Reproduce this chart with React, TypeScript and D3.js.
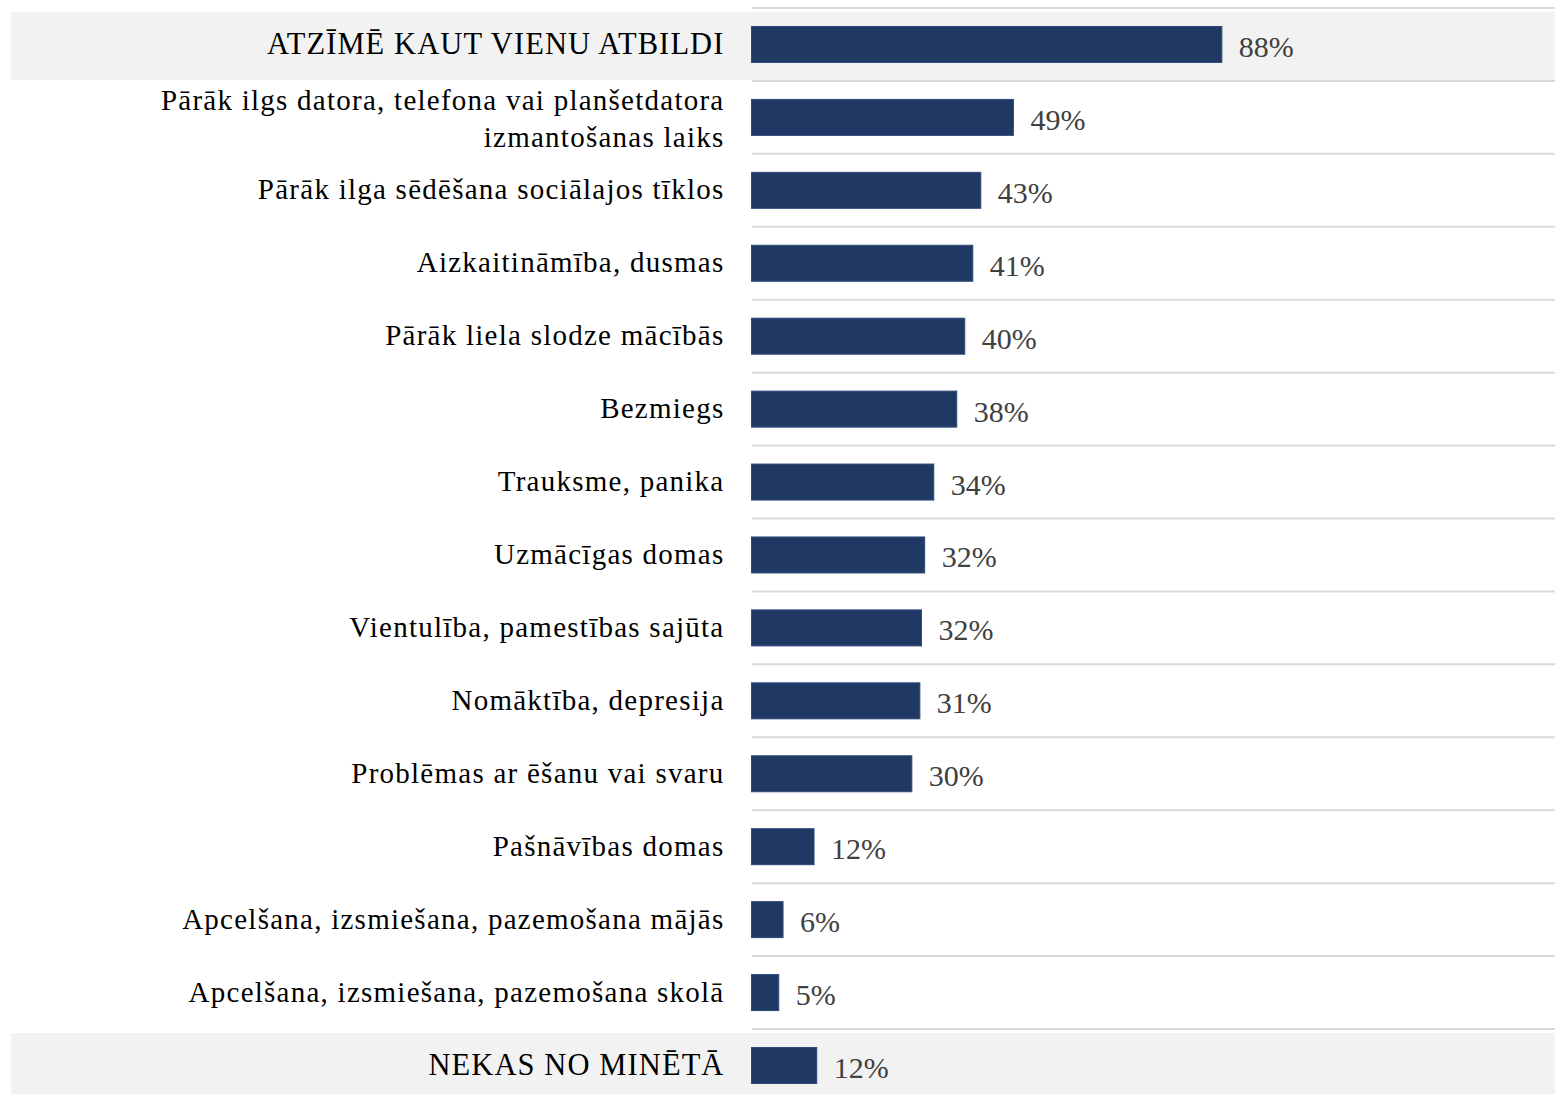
import React from "react";
import * as d3 from "d3";

const categories: string[][] = [
  ["ATZĪMĒ KAUT VIENU ATBILDI"],
  ["Pārāk ilgs datora, telefona vai planšetdatora", "izmantošanas laiks"],
  ["Pārāk ilga sēdēšana sociālajos tīklos"],
  ["Aizkaitināmība, dusmas"],
  ["Pārāk liela slodze mācībās"],
  ["Bezmiegs"],
  ["Trauksme, panika"],
  ["Uzmācīgas domas"],
  ["Vientulība, pamestības sajūta"],
  ["Nomāktība, depresija"],
  ["Problēmas ar ēšanu vai svaru"],
  ["Pašnāvības domas"],
  ["Apcelšana, izsmiešana, pazemošana mājās"],
  ["Apcelšana, izsmiešana, pazemošana skolā"],
  ["NEKAS NO MINĒTĀ"],
];
const values: number[] = [88, 49, 42.9, 41.4, 39.9, 38.4, 34.1, 32.4, 31.8, 31.5, 30, 11.7, 5.9, 5.1, 12.2];
const valueLabels: string[] = ["88%", "49%", "43%", "41%", "40%", "38%", "34%", "32%", "32%", "31%", "30%", "12%", "6%", "5%", "12%"];
const highlighted: number[] = [0, 14];

export default function App() {
  const W = 1555, H = 1094;
  const ids = categories.map((_, i) => String(i));
  const y = d3.scaleBand<string>().domain(ids).range([8, 8 + 72.93 * 15]).padding(0);
  const x = d3.scaleLinear().domain([0, 100]).range([751.5, 1286]);
  const bw = y.bandwidth();
  const barH = 36;
  const font = "'Liberation Serif', 'Times New Roman', serif";
  return (
    <svg width={W} height={H} style={{ position: "absolute", left: 0, top: 0, background: "#fff" }}>
      {highlighted.map((i) => (
        <rect key={"hl" + i} x={11} y={(y(String(i)) as number) + 4} width={W - 11} height={bw - 5} fill="#f2f2f2" />
      ))}
      {ids.map((id) => (
        <line key={"l" + id} x1={752} x2={W} y1={(y(id) as number)} y2={(y(id) as number)} stroke="#d9d9d9" strokeWidth={2} />
      ))}
      {ids.map((id, i) => {
        const top = y(id) as number;
        const cy = top + bw / 2;
        const lines = categories[i];
        const isHl = highlighted.includes(i);
        const lh = 37;
        const extra = lines.length > 1 ? 3 : isHl ? 2 : 1;
        return (
          <g key={"r" + id}>
            <rect x={x(0)} y={cy - barH / 2} width={x(values[i]) - x(0)} height={barH} fill="#203864" stroke="#2e4a7c" strokeWidth={1} />
            <text fontFamily={font} fontSize={isHl ? 30.5 : 29} letterSpacing={isHl ? 1.1 : 1.25} fill="#000" textAnchor="end">
              {lines.map((t, k) => (
                <tspan key={k} x={724.5} y={cy + 8 + extra + (k - (lines.length - 1) / 2) * lh}>{t}</tspan>
              ))}
            </text>
            <text x={x(values[i]) + 17} y={cy + 12.5} fontFamily={font} fontSize={30} fill="#404040">
              {valueLabels[i]}
            </text>
          </g>
        );
      })}
    </svg>
  );
}
